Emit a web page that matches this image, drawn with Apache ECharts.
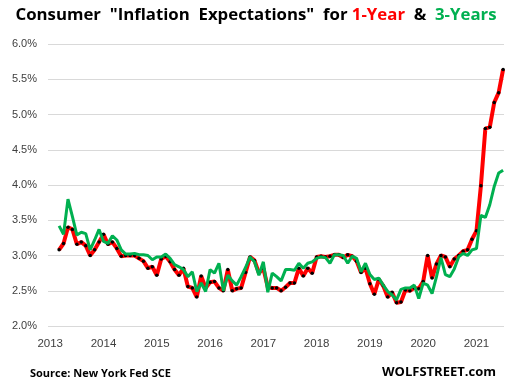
<!DOCTYPE html>
<html>
<head>
<meta charset="utf-8">
<script src="https://cdn.jsdelivr.net/npm/echarts@6/dist/echarts.min.js"></script>
<style>html,body{margin:0;padding:0;background:#fff}#c{width:512px;height:386px}</style>
</head>
<body>
<div id="c"></div>
<script>
// Months: consecutive from June 2013 to October 2021
const firstYear = 2013, firstMonth = 6, monthCount = 101;
const months = [];
for (let i = 0; i < monthCount; i++) {
  const t = (firstMonth - 1) + i;
  months.push((firstYear + Math.floor(t / 12)) + '-' + String(t % 12 + 1).padStart(2, '0'));
}
// 1-year inflation expectations (%)
const oneYear = [
  3.08, 3.17, 3.40, 3.37, 3.16, 3.19, 3.14,
  3.00, 3.08, 3.19, 3.30, 3.16, 3.19, 3.10, 2.99, 3.00, 3.00, 3.00, 2.96,
  2.92, 2.82, 2.84, 2.72, 2.95, 2.99, 2.91, 2.80, 2.72, 2.82, 2.56, 2.54,
  2.41, 2.71, 2.54, 2.62, 2.63, 2.54, 2.50, 2.80, 2.50, 2.53, 2.54, 2.76,
  2.98, 2.93, 2.75, 2.82, 2.55, 2.54, 2.54, 2.50, 2.55, 2.61, 2.61, 2.82,
  2.71, 2.82, 2.75, 2.98, 2.99, 2.98, 2.99, 3.01, 3.01, 2.97, 3.01, 2.99,
  2.92, 2.76, 2.82, 2.60, 2.45, 2.66, 2.57, 2.41, 2.48, 2.33, 2.34, 2.51,
  2.50, 2.54, 2.53, 2.63, 3.00, 2.68, 2.88, 3.00, 2.98, 2.84, 2.95, 3.00,
  3.06, 3.08, 3.23, 3.35, 3.99, 4.80, 4.82, 5.17, 5.31, 5.64
];
// 3-year inflation expectations (%)
const threeYear = [
  3.42, 3.30, 3.80, 3.55, 3.29, 3.33, 3.31,
  3.08, 3.22, 3.37, 3.20, 3.17, 3.28, 3.22, 3.08, 3.02, 3.02, 3.03, 3.01,
  3.01, 3.00, 2.94, 2.98, 2.98, 3.02, 2.96, 2.87, 2.84, 2.80, 2.70, 2.77,
  2.49, 2.61, 2.49, 2.80, 2.75, 2.89, 2.50, 2.72, 2.64, 2.58, 2.70, 2.83,
  2.98, 2.91, 2.72, 2.91, 2.48, 2.75, 2.70, 2.64, 2.80, 2.80, 2.79, 2.89,
  2.82, 2.89, 2.91, 2.96, 2.98, 2.97, 2.89, 3.01, 3.01, 3.00, 2.89, 2.99,
  2.96, 2.77, 2.89, 2.73, 2.66, 2.68, 2.58, 2.49, 2.44, 2.37, 2.52, 2.54,
  2.54, 2.58, 2.39, 2.61, 2.58, 2.46, 2.70, 2.97, 2.73, 2.70, 2.81, 2.98,
  3.03, 3.00, 3.08, 3.10, 3.57, 3.54, 3.72, 3.98, 4.17, 4.21
];
const yearLabels = ['2013','2014','2015','2016','2017','2018','2019','2020','2021'];
const yTicks = [2.0, 2.5, 3.0, 3.5, 4.0, 4.5, 5.0, 5.5, 6.0];

// month index since Jan 2013
function idx(key) {
  const [y, m] = key.split('-').map(Number);
  return (y - 2013) * 12 + (m - 1);
}
const redData = months.map((k, i) => [idx(k), oneYear[i]]);
const greenData = months.map((k, i) => [idx(k), threeYear[i]]);
// year labels centred a quarter into each year
const yearPos = yearLabels.map(y => (Number(y) - 2013) * 12 + 3);

const chart = echarts.init(document.getElementById('c'), null, {renderer: 'canvas'});
const FONT = '"Open Sans", "DejaVu Sans", sans-serif';
const TS = 16.8;
chart.setOption({
  animation: false,
  backgroundColor: '#ffffff',
  title: [
    {
      text: '{b|Consumer  "Inflation  Expectations"  for }{r|1-Year}{b|  &  }{g|3-Years}',
      left: 'center', top: 2,
      textStyle: {
        rich: {
          b: {fontFamily: FONT, fontWeight: 'bold', fontSize: TS, color: '#000000'},
          r: {fontFamily: FONT, fontWeight: 'bold', fontSize: TS, color: '#FF0000'},
          g: {fontFamily: FONT, fontWeight: 'bold', fontSize: TS, color: '#00B050'}
        }
      }
    },
    {
      text: 'Source: New York Fed SCE',
      left: 25, top: 363,
      textStyle: {fontFamily: FONT, fontWeight: 'bold', fontSize: 11, color: '#000000'}
    },
    {
      text: 'WOLFSTREET.com',
      right: 11, top: 361,
      textStyle: {fontFamily: FONT, fontWeight: 'bold', fontSize: 13, color: '#000000'}
    }
  ],
  grid: {left: 48, right: 8, top: 44, bottom: 60, containLabel: false},
  xAxis: {
    type: 'value',
    min: 2.5, max: 105.2,
    axisLine: {show: false},
    axisTick: {show: false},
    splitLine: {show: false},
    axisLabel: {
      customValues: yearPos,
      formatter: v => yearLabels[Math.round((v - 3) / 12)],
      fontFamily: '"Liberation Sans", Arial, sans-serif',
      fontSize: 11.5, color: '#404040', margin: 12
    }
  },
  yAxis: {
    type: 'value',
    min: yTicks[0], max: yTicks[yTicks.length - 1], interval: 0.5,
    axisLine: {show: false},
    axisTick: {show: false},
    splitLine: {lineStyle: {color: '#D9D9D9', width: 1}},
    axisLabel: {
      formatter: v => v.toFixed(1) + '%',
      fontFamily: '"Liberation Sans", Arial, sans-serif',
      fontSize: 11, color: '#404040', margin: 11
    }
  },
  series: [
    {
      name: '1-Year', type: 'line', data: redData, z: 2,
      lineStyle: {color: '#FF0000', width: 4},
      symbol: 'circle', symbolSize: 3.5, showSymbol: true,
      itemStyle: {color: '#000000', borderWidth: 0}
    },
    {
      name: '3-Years', type: 'line', data: greenData, z: 3,
      lineStyle: {color: '#00B050', width: 3},
      symbol: 'none'
    }
  ]
});
</script>
</body>
</html>
